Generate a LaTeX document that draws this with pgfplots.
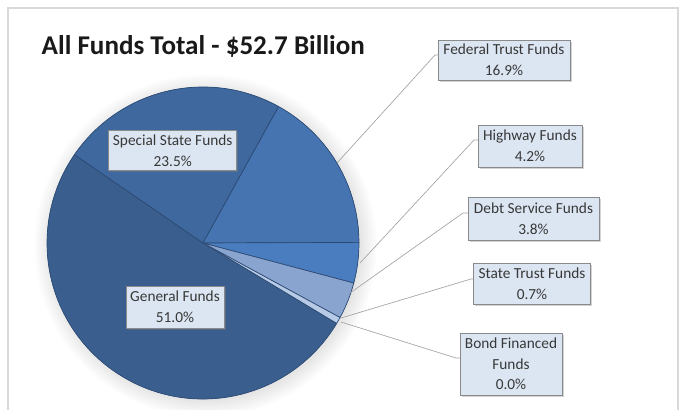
\documentclass[border=0pt]{standalone}
\usepackage{pgfplots}
\pgfplotsset{compat=1.18}
\usepackage{pgfplotstable}
\usepackage{fontspec}
\setmainfont{Carlito}
\usetikzlibrary{shadows}

\definecolor{slice0}{HTML}{3A5F8E}% General
\definecolor{slice1}{HTML}{3E689E}% Special State
\definecolor{slice2}{HTML}{4574B0}% Federal Trust
\definecolor{slice3}{HTML}{4A7DBF}% Highway
\definecolor{slice4}{HTML}{8AA4D0}% Debt Service
\definecolor{slice5}{HTML}{B7CAE6}% State Trust
\definecolor{slice6}{HTML}{C9D6EC}% Bond Financed
\definecolor{edge}{HTML}{2C4A73}
\definecolor{boxfill}{HTML}{DCE6F2}
\definecolor{boxline}{HTML}{8A8A8A}
\definecolor{txt}{HTML}{383838}
\definecolor{leader}{HTML}{A3A3A3}
\definecolor{frame}{HTML}{D9D9D9}

\tikzset{lbl/.style={draw=boxline, line width=0.6pt, fill=boxfill, text=txt,
    align=center, inner sep=0pt, font=\fontsize{11.5}{15.5}\selectfont,
    drop shadow={shadow xshift=1.2pt, shadow yshift=-1.2pt, opacity=0.35}}}

% share of the total, in %
\pgfplotstableread{
fund        value
General     51.0
Special     23.5
Federal     16.9
Highway     4.2
Debt        3.8
StateTrust  0.7
Bond        0.0
}\piedata

\begin{document}
\begin{tikzpicture}
% total of the values, then start/end angle of each slice (clockwise)
\gdef\pietotal{0}
\pgfplotstableforeachcolumnelement{value}\of\piedata\as\v{%
  \pgfmathsetmacro\tmp{\pietotal+\v}\global\let\pietotal\tmp}
\gdef\curang{328.93}
\pgfplotstableforeachcolumnelement{value}\of\piedata\as\v{%
  \pgfmathsetmacro\nextang{\curang-\v/\pietotal*360}%
  \expandafter\xdef\csname ps\pgfplotstablerow\endcsname{\curang}%
  \expandafter\xdef\csname pe\pgfplotstablerow\endcsname{\nextang}%
  \global\let\curang\nextang}

\begin{axis}[
  width=510.75pt, height=307.5pt, scale only axis,
  xmin=0, xmax=681, ymin=0, ymax=410, y dir=reverse,
  hide axis, clip=false,
  ]
  % frame
  \draw[frame, line width=0.8pt] (axis cs:8,410) -- (axis cs:8,8) -- (axis cs:678,8) -- (axis cs:678,410);

  % title
  \node[anchor=base west, font=\fontsize{20.3}{24}\selectfont\bfseries, text=black!90]
    at (axis cs:37,55) {All Funds Total - \$52.7 Billion};

  % soft shadow behind the pie
  \path[fill=slice0, circular drop shadow={shadow xshift=1.5pt, shadow yshift=-1.5pt, opacity=0.3}]
    (axis cs:203,243) circle[radius=117pt];

  % slices
  \pgfplotsinvokeforeach{0,...,6}{
    \filldraw[fill=slice#1, draw=edge, line width=0.5pt, line join=round]
      (axis cs:203,243) -- ++(\csname ps#1\endcsname:117pt)
      arc[start angle=\csname ps#1\endcsname, end angle=\csname pe#1\endcsname, radius=117pt]
      -- cycle;
  }

  % leader lines
  \draw[leader, line width=0.5pt] (axis cs:337,163) -- (axis cs:435,55) -- (axis cs:438,55);
  \draw[leader, line width=0.5pt] (axis cs:360,263) -- (axis cs:474,140) -- (axis cs:478,140);
  \draw[leader, line width=0.5pt] (axis cs:350,293) -- (axis cs:463,213) -- (axis cs:468,213);
  \draw[leader, line width=0.5pt] (axis cs:341,318) -- (axis cs:471,279) -- (axis cs:474,279);
  \draw[leader, line width=0.5pt] (axis cs:341,322) -- (axis cs:456,358) -- (axis cs:460,358);

  % data labels
  \node[lbl, minimum width=99pt, minimum height=30pt] at (axis cs:504,60) {Federal Trust Funds\\16.9\%};
  \node[lbl, minimum width=78pt, minimum height=31.5pt] at (axis cs:530,146) {Highway Funds\\4.2\%};
  \node[lbl, minimum width=98.25pt, minimum height=32.25pt] at (axis cs:533.5,218.5) {Debt Service Funds\\3.8\%};
  \node[lbl, minimum width=87.75pt, minimum height=30.75pt] at (axis cs:532,283.5) {State Trust Funds\\0.7\%};
  \node[lbl, minimum width=76.5pt, minimum height=46.5pt] at (axis cs:511,364) {Bond Financed\\Funds\\0.0\%};
  \node[lbl, minimum width=96pt, minimum height=30pt] at (axis cs:172.7,150.7) {Special State Funds\\23.5\%};
  \node[lbl, minimum width=73.5pt, minimum height=31.5pt] at (axis cs:175,307) {General Funds\\51.0\%};
\end{axis}
\pgfresetboundingbox
\useasboundingbox (current axis.south west) rectangle (current axis.north east);
\end{tikzpicture}
\end{document}
